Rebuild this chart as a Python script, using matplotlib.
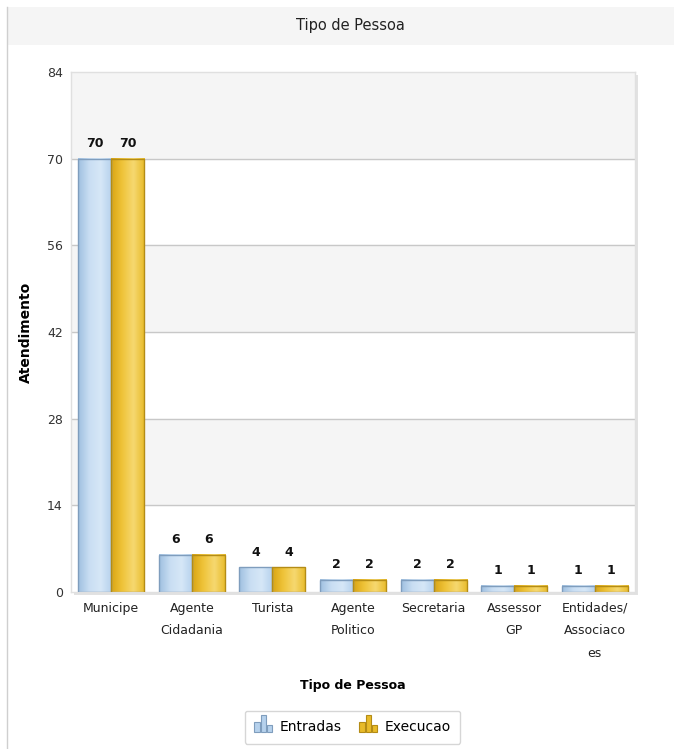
import numpy as np
import matplotlib.pyplot as plt
from matplotlib.patches import Rectangle
from matplotlib.colors import LinearSegmentedColormap
from matplotlib.legend_handler import HandlerBase

plt.rcParams['font.family'] = ['DejaVu Sans']

categories = ['Municipe', 'Agente\nCidadania', 'Turista', 'Agente\nPolitico',
              'Secretaria', 'Assessor\nGP', 'Entidades/\nAssociaco\nes']
entradas = [70, 6, 4, 2, 2, 1, 1]
execucao = [70, 6, 4, 2, 2, 1, 1]
yticks = [0, 14, 28, 42, 56, 70, 84]


class MiniBars(HandlerBase):
    # small three-bar icon like the original legend
    def create_artists(self, legend, orig_handle, xd, yd, width, height, fontsize, trans):
        fc, ec = orig_handle.get_facecolor(), orig_handle.get_edgecolor()
        bw = width / 3.3
        arts = []
        for i, h in enumerate([0.6, 1.0, 0.4]):
            r = Rectangle((xd + i * bw * 1.15, yd - height * 0.2), bw, height * 1.4 * h,
                          facecolor=fc, edgecolor=ec, lw=0.8, transform=trans)
            arts.append(r)
        return arts


fig = plt.figure(figsize=(6.74, 7.49), dpi=100)

# title band and left border
fig.patches.append(Rectangle((0.012, 0.94), 0.988, 0.05, transform=fig.transFigure,
                             facecolor='#f5f5f5', edgecolor='none', zorder=-2))
fig.add_artist(plt.Line2D([0.011, 0.011], [0.0, 0.99], transform=fig.transFigure,
                          color='#cfcfcf', lw=1))
fig.text(0.52, 0.966, 'Tipo de Pessoa', ha='center', va='center', fontsize=10.5, color='#222222')

ax_box = [0.1053, 0.2097, 0.837, 0.6943]
# plot shadow
fig.patches.append(Rectangle((ax_box[0] + 0.005, ax_box[1] - 0.004), ax_box[2], ax_box[3],
                             transform=fig.transFigure, facecolor='#e2e2e2',
                             edgecolor='none', zorder=-2))

ax = fig.add_axes(ax_box)
ax.set_facecolor('white')

# alternating bands
for i in range(len(yticks) - 1):
    if (len(yticks) - 2 - i) % 2 == 0:
        ax.axhspan(yticks[i], yticks[i + 1], color='#f5f5f5', zorder=0)
for t in yticks[1:-1]:
    ax.axhline(t, color='#c8c8c8', lw=1, zorder=1)

x = np.arange(len(categories))
w = 0.41
cmap_blue = LinearSegmentedColormap.from_list('b', ['#9fc0e0', '#c9def3', '#d6e7f7', '#b6d1ec'])
cmap_gold = LinearSegmentedColormap.from_list('g', ['#d9a514', '#efc43a', '#f6d870', '#e8bb2a'])
grad = np.linspace(0, 1, 64).reshape(1, -1)

bars1 = ax.bar(x - w / 2, entradas, w, facecolor='none', edgecolor='#7f9dbd', lw=1, zorder=3)
bars2 = ax.bar(x + w / 2, execucao, w, facecolor='none', edgecolor='#b48c16', lw=1, zorder=3)
for bars, cm in ((bars1, cmap_blue), (bars2, cmap_gold)):
    for b in bars:
        bx, by, bw, bh = b.get_x(), b.get_y(), b.get_width(), b.get_height()
        ax.imshow(grad, cmap=cm, extent=(bx, bx + bw, by, by + bh), aspect='auto',
                  zorder=2, interpolation='bicubic')
    for b in bars:
        ax.text(b.get_x() + b.get_width() / 2, b.get_height() + 1.4, f'{int(b.get_height())}',
                ha='center', va='bottom', fontsize=9, fontweight='bold', color='#111111')
ax.set_xlim(-0.5, len(categories) - 0.5)
ax.set_ylim(0, 84)

ax.set_xticks(x)
ax.set_xticklabels(categories, fontsize=9, color='#222222', linespacing=1.95, va='top')
ax.set_yticks(yticks)
ax.set_yticklabels([str(t) for t in yticks], fontsize=9, color='#333333')
ax.tick_params(length=0, pad=6)
ax.tick_params(axis='x', pad=7)
for s in ax.spines.values():
    s.set_color('#e0e0e0')
    s.set_linewidth(1)

ax.set_ylabel('Atendimento', fontsize=10, fontweight='bold', labelpad=10)
ax.set_xlabel('Tipo de Pessoa', fontsize=9, fontweight='bold', labelpad=14)

h1 = Rectangle((0, 0), 1, 1, facecolor='#b6d1ec', edgecolor='#7f9dbd')
h2 = Rectangle((0, 0), 1, 1, facecolor='#e8bb2a', edgecolor='#b48c16')
leg = fig.legend([h1, h2], ['Entradas', 'Execucao'], loc='center',
                 bbox_to_anchor=(0.523, 0.029), ncol=2, fontsize=10, frameon=True,
                 handlelength=1.3, handleheight=1.0, handletextpad=0.5,
                 columnspacing=1.3, fancybox=True, edgecolor='#cccccc', borderpad=0.7,
                 handler_map={Rectangle: MiniBars()})

fig.savefig('out.png', dpi=100, facecolor='white')
